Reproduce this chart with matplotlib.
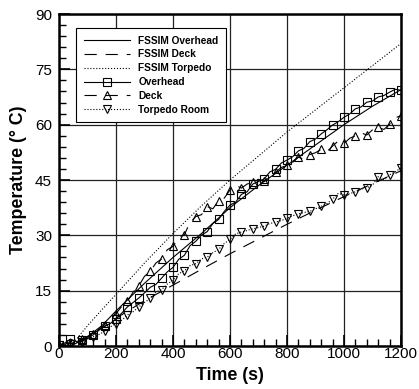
import matplotlib
matplotlib.use("Agg")
import matplotlib.pyplot as plt
from matplotlib.ticker import MultipleLocator

plt.rcParams['font.family'] = ['Liberation Sans', 'DejaVu Sans']

# FSSIM model predictions
t_model = [0, 50, 100, 150, 200, 300, 400, 500, 600, 700, 800, 900, 1000, 1100, 1200]
fssim_overhead = [0, 0.3, 2.5, 5.5, 9.5, 17.0, 24.0, 30.5, 37.5, 43.5, 49.0, 54.5, 60.0, 65.0, 69.5]
fssim_deck = [0, 0.2, 2.0, 4.8, 7.5, 12.3, 16.5, 20.8, 25.0, 29.0, 33.0, 36.8, 40.5, 44.0, 47.5]
fssim_torpedo = [0, 0.8, 5.5, 9.8, 14.0, 22.5, 30.5, 38.0, 45.0, 51.5, 58.0, 64.0, 70.0, 76.0, 82.0]

# measured data, every 20 s
t_exp = list(range(0, 1201, 20))
overhead = [0.3, 0.8, 1.9, 1.2, 1.5, 2.4, 3.0, 4.6, 5.3, 6.1,
            7.4, 8.9, 10.6, 11.8, 13.0, 14.4, 15.9, 16.7, 18.4, 20.1,
            21.3, 23.5, 24.6, 27.2, 28.4, 30.1, 31.0, 33.2, 34.3, 36.5,
            38.2, 39.0, 41.1, 41.8, 43.9, 44.6, 45.3, 47.2, 47.9, 49.6,
            50.4, 51.3, 52.9, 53.6, 55.4, 56.1, 57.5, 58.6, 59.9, 60.8,
            62.0, 62.9, 64.3, 64.8, 66.1, 66.4, 67.5, 67.9, 68.8, 69.6, 69.3]
deck = [0.2, 0.5, 0.9, 1.4, 1.8, 2.6, 3.3, 4.5, 5.8, 7.4,
        8.8, 10.7, 12.1, 14.6, 16.3, 18.9, 20.2, 22.5, 23.6, 26.1,
        27.0, 29.4, 30.2, 33.5, 35.1, 35.6, 37.8, 37.2, 39.4, 40.1,
        42.3, 43.6, 42.8, 43.9, 44.5, 45.2, 44.6, 46.3, 47.1, 48.4,
        49.0, 49.8, 51.2, 50.6, 51.9, 52.4, 53.3, 52.7, 54.2, 55.6,
        54.9, 56.3, 57.0, 57.8, 57.2, 58.6, 59.3, 58.7, 60.1, 61.9, 62.4]
torpedo = [0.2, 0.4, 0.6, 0.9, 1.2, 1.9, 2.5, 3.1, 4.0, 5.2,
           6.1, 7.0, 8.4, 9.3, 10.6, 11.8, 12.9, 14.6, 15.3, 16.8,
           17.9, 19.6, 20.4, 21.8, 22.3, 23.6, 24.1, 25.3, 26.2, 27.8,
           28.9, 30.4, 30.9, 31.3, 31.8, 32.1, 32.5, 33.2, 33.6, 34.0,
           34.6, 35.3, 35.8, 36.2, 36.5, 37.2, 37.9, 38.6, 39.8, 41.4,
           40.9, 41.3, 41.8, 42.5, 42.9, 43.6, 45.9, 45.1, 46.4, 47.2, 48.3]

fig = plt.figure(figsize=(4.19, 3.89), dpi=100)
ax = fig.add_axes([0.1408, 0.1105, 0.8162, 0.8535])

dash = (0, (11, 8))
ax.plot(t_model, fssim_overhead, color='black', lw=0.8, ls='-', label='FSSIM Overhead')
ax.plot(t_model, fssim_deck, color='black', lw=0.8, ls=dash, label='FSSIM Deck')
ax.plot(t_model, fssim_torpedo, color='black', lw=0.8, ls=':', label='FSSIM Torpedo')

mk = dict(color='black', lw=0.8, markersize=6.2, markerfacecolor='none',
          markeredgewidth=0.8, markevery=2)
ax.plot(t_exp, overhead, ls='-', marker='s', label='Overhead', **mk)
ax.plot(t_exp, deck, ls=dash, marker='^', label='Deck', **mk)
ax.plot(t_exp, torpedo, ls=':', marker='v', label='Torpedo Room', **mk)

ax.set_xlim(0, 1200)
ax.set_ylim(0, 90)
ax.xaxis.set_major_locator(MultipleLocator(200))
ax.xaxis.set_minor_locator(MultipleLocator(40))
ax.yaxis.set_major_locator(MultipleLocator(15))
ax.yaxis.set_minor_locator(MultipleLocator(3))
ax.grid(True, which='major', color='#222222', lw=0.9)
ax.tick_params(which='both', direction='in', top=False, right=False, labelsize=11)
ax.tick_params(which='major', length=8, width=1.2)
ax.tick_params(which='minor', length=5, width=1.0)
ax.tick_params(axis='x', pad=1)
ax.tick_params(axis='y', pad=5)
for s in ax.spines.values():
    s.set_linewidth(1.8)

ax.set_xlabel('Time (s)', fontsize=12.8, fontweight='bold')
ax.set_ylabel('Temperature (° C)', fontsize=12.8, fontweight='bold')
ax.xaxis.set_label_coords(0.5, -0.063)
ax.yaxis.set_label_coords(-0.095, 0.5)

leg = ax.legend(loc='upper left', bbox_to_anchor=(0.05, 0.958), fancybox=False,
                edgecolor='black', framealpha=1, prop={'weight': 'bold', 'size': 7.3},
                handlelength=4.6, labelspacing=0.38, borderpad=0.75, handletextpad=0.8,
                borderaxespad=0)
leg.get_frame().set_linewidth(0.8)

fig.savefig('out.png', dpi=100)
